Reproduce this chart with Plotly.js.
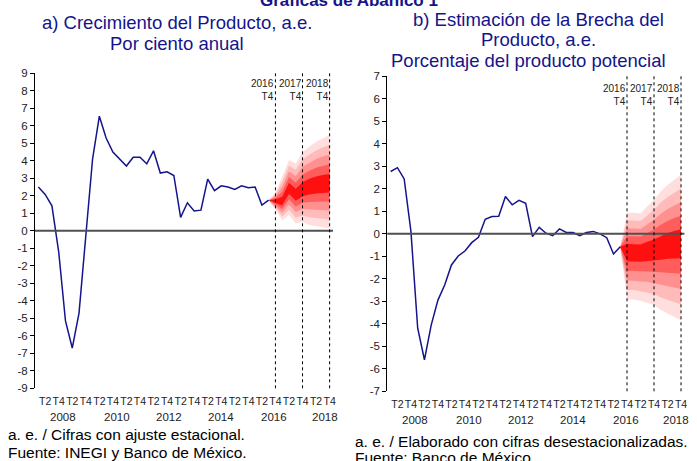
<!DOCTYPE html>
<html><head><meta charset="utf-8">
<script src="https://cdn.plot.ly/plotly-3.0.1.min.js"></script>
<style>html,body{margin:0;padding:0;background:#fff;}#chart{width:697px;height:461px;}</style>
</head><body><div id="chart"></div>
<script>
// ---- categories ----
const years = [2008, 2009, 2010, 2011, 2012, 2013, 2014, 2015, 2016, 2017, 2018];
const quarterNames = ['T1', 'T2', 'T3', 'T4'];
const quarters = [];
years.forEach(y => quarterNames.forEach(q => quarters.push(y + q)));
const yearLabels = ['2008', '2010', '2012', '2014', '2016', '2018'];
const markerLabels = ['2016<br>T4', '2017<br>T4', '2018<br>T4'];
const markerQuarters = ['2016T4', '2017T4', '2018T4'];

// ---- a) Crecimiento del Producto (historical, 2008T1-2016T3) ----
const growthHist = [2.5, 2.08, 1.43, -1.2, -5.15, -6.7, -4.7, -0.4, 4.1, 6.55, 5.3, 4.5, 4.1, 3.7, 4.2, 4.2,
  3.83, 4.57, 3.3, 3.37, 3.16, 0.77, 1.6, 1.13, 1.18, 2.95, 2.29, 2.57, 2.5, 2.36, 2.57, 2.46, 2.5, 1.47, 1.75];
// fan (2016T3-2018T4)
const growthUp100 = [1.75, 2.17, 3.09, 4.04, 3.85, 4.51, 4.80, 5.09, 5.28, 5.47];
const growthUp80  = [1.75, 2.08, 2.80, 3.72, 3.49, 4.07, 4.34, 4.59, 4.76, 4.92];
const growthUp60  = [1.75, 1.99, 2.52, 3.39, 3.13, 3.64, 3.88, 4.10, 4.24, 4.36];
const growthUp40  = [1.75, 1.89, 2.23, 3.07, 2.76, 3.20, 3.43, 3.60, 3.71, 3.81];
const growthUp20  = [1.75, 1.80, 1.95, 2.74, 2.40, 2.77, 2.97, 3.11, 3.19, 3.25];
const growthLo20  = [1.75, 1.61, 1.45, 2.12, 1.72, 1.97, 2.07, 2.13, 2.17, 2.19];
const growthLo40  = [1.75, 1.51, 1.24, 1.81, 1.39, 1.60, 1.64, 1.66, 1.68, 1.67];
const growthLo60  = [1.75, 1.42, 1.03, 1.51, 1.07, 1.24, 1.20, 1.18, 1.18, 1.16];
const growthLo80  = [1.75, 1.32, 0.82, 1.20, 0.74, 0.87, 0.77, 0.71, 0.69, 0.64];
const growthLo100 = [1.75, 1.22, 0.61, 0.90, 0.42, 0.51, 0.33, 0.23, 0.19, 0.13];

// ---- b) Brecha del Producto (historical, 2008T1-2016T3) ----
const gapHist = [2.76, 2.93, 2.43, 0.1, -4.2, -5.6, -4.06, -2.95, -2.28, -1.39, -0.99, -0.77, -0.4, -0.16, 0.64, 0.76,
  0.77, 1.65, 1.28, 1.48, 1.35, -0.13, 0.28, 0.02, -0.09, 0.21, 0.05, 0.05, -0.09, 0.05, 0.1, -0.01, -0.18, -0.9, -0.58];
const gapUp100 = [-0.58, 0.93, 0.93, 0.90, 1.20, 1.50, 1.87, 2.16, 2.39, 2.61];
const gapUp80  = [-0.58, 0.58, 0.58, 0.56, 0.81, 1.06, 1.38, 1.63, 1.82, 2.01];
const gapUp60  = [-0.58, 0.24, 0.23, 0.21, 0.42, 0.62, 0.88, 1.10, 1.25, 1.41];
const gapUp40  = [-0.58, -0.11, -0.12, -0.13, 0.03, 0.18, 0.39, 0.56, 0.69, 0.80];
const gapUp20  = [-0.58, -0.45, -0.47, -0.48, -0.36, -0.26, -0.11, 0.03, 0.12, 0.20];
const gapLo20  = [-0.58, -1.22, -1.24, -1.25, -1.21, -1.19, -1.16, -1.11, -1.10, -1.09];
const gapLo40  = [-0.58, -1.65, -1.66, -1.68, -1.68, -1.69, -1.72, -1.72, -1.75, -1.78];
const gapLo60  = [-0.58, -2.07, -2.08, -2.12, -2.14, -2.18, -2.27, -2.32, -2.39, -2.46];
const gapLo80  = [-0.58, -2.50, -2.50, -2.55, -2.61, -2.68, -2.83, -2.93, -3.04, -3.15];
const gapLo100 = [-0.58, -2.92, -2.92, -2.98, -3.07, -3.17, -3.39, -3.54, -3.69, -3.84];

const histQuarters = quarters.slice(0, growthHist.length);
const fanQuarters = quarters.slice(growthHist.length - 1);

// ---- styles ----
const FONT = 'Liberation Sans, Arial, sans-serif';
const NAVY = '#14148c';
const fanColors = ['#FFDEDE', '#FFBABA', '#FF9090', '#FF5C5C', '#FF1010'];

function band(up, lo, color, xa, ya) {
  return {
    type: 'scatter', mode: 'lines', xaxis: xa, yaxis: ya,
    x: fanQuarters.concat(fanQuarters.slice().reverse()),
    y: up.concat(lo.slice().reverse()),
    fill: 'toself', fillcolor: color, line: {width: 0, color: color},
    hoverinfo: 'skip', showlegend: false
  };
}

const traces = [
  band(growthUp100, growthLo100, fanColors[0], 'x', 'y'),
  band(growthUp80, growthLo80, fanColors[1], 'x', 'y'),
  band(growthUp60, growthLo60, fanColors[2], 'x', 'y'),
  band(growthUp40, growthLo40, fanColors[3], 'x', 'y'),
  band(growthUp20, growthLo20, fanColors[4], 'x', 'y'),
  {type: 'scatter', mode: 'lines', x: histQuarters, y: growthHist, xaxis: 'x', yaxis: 'y',
   line: {color: NAVY, width: 1.5}, showlegend: false},
  band(gapUp100, gapLo100, fanColors[0], 'x2', 'y2'),
  band(gapUp80, gapLo80, fanColors[1], 'x2', 'y2'),
  band(gapUp60, gapLo60, fanColors[2], 'x2', 'y2'),
  band(gapUp40, gapLo40, fanColors[3], 'x2', 'y2'),
  band(gapUp20, gapLo20, fanColors[4], 'x2', 'y2'),
  {type: 'scatter', mode: 'lines', x: histQuarters, y: gapHist, xaxis: 'x2', yaxis: 'y2',
   line: {color: NAVY, width: 1.5}, showlegend: false}
];

const tickQuarters = quarters.filter(q => q.endsWith('T2') || q.endsWith('T4'));
const tickTexts = tickQuarters.map(q => q.slice(4));

function xAxis(domain, anchor) {
  return {
    domain: domain, anchor: anchor, type: 'category', categoryorder: 'array', categoryarray: quarters,
    range: [-0.5, quarters.length - 0.5], showgrid: false, zeroline: false, showline: false,
    ticks: '', tickmode: 'array', tickvals: tickQuarters, ticktext: tickTexts, tickangle: 0,
    ticklabelstandoff: 5,
    tickfont: {family: FONT, size: 10.5, color: '#222'}, fixedrange: true
  };
}
function yAxis(domain, anchor, lim) {
  const vals = [];
  for (let v = -lim; v <= lim; v++) vals.push(v);
  return {
    domain: domain, anchor: anchor, range: [-lim, lim],
    tickmode: 'array', tickvals: vals, ticktext: vals.map(v => String(v)),
    showgrid: false, zeroline: false, showline: true, linecolor: '#000', linewidth: 1,
    ticks: 'outside', ticklen: 4, tickcolor: '#000', tickwidth: 1,
    tickfont: {family: FONT, size: 11.5, color: '#222'}, fixedrange: true
  };
}

const shapes = [];
const annotations = [];
[['x', 'y'], ['x2', 'y2']].forEach(([xa, ya], k) => {
  shapes.push({type: 'line', xref: xa + ' domain', yref: ya, x0: 0, x1: 1, y0: 0, y1: 0,
    line: {color: '#505050', width: 2}, layer: 'above'});
  markerQuarters.forEach((q, j) => {
    const idx = quarters.indexOf(q);
    shapes.push({type: 'line', xref: xa, yref: ya + ' domain', x0: idx, x1: idx, y0: 0, y1: 1,
      line: {color: '#000', width: 1, dash: 'dot'}, layer: 'above'});
    annotations.push({xref: xa, yref: ya + ' domain', x: idx, y: k === 0 ? 0.99 : 0.983,
      xanchor: 'right', yanchor: 'top', text: markerLabels[j], align: 'right', showarrow: false,
      font: {family: FONT, size: 10, color: '#222'}, xshift: 1});
  });
  const yearPos = [3.6, 11.6, 19.3, 27.0, 34.8, 42.3];
  yearLabels.forEach((t, j) => {
    annotations.push({xref: xa, yref: ya + ' domain', x: yearPos[j], y: 0, yanchor: 'middle',
      yshift: -29, text: t, showarrow: false, font: {family: FONT, size: 11.5, color: '#222'}});
  });
});

function paperText(text, x, y, opts) {
  return Object.assign({xref: 'paper', yref: 'paper', x: x / 697, y: 1 - y / 461, text: text,
    showarrow: false, xanchor: 'center', yanchor: 'middle',
    font: {family: FONT, size: 18.5, color: NAVY}}, opts || {});
}
annotations.push(paperText('<b>Gráficas de Abanico 1</b>', 349, 1, {font: {family: FONT, size: 17, color: NAVY}}));
annotations.push(paperText('a) Crecimiento del Producto, a.e.', 177, 22.7));
annotations.push(paperText('Por ciento anual', 177, 44));
annotations.push(paperText('b) Estimación de la Brecha del', 538, 19));
annotations.push(paperText('Producto, a.e.', 538, 39.5));
annotations.push(paperText('Porcentaje del producto potencial', 528, 60));
const footA = {xanchor: 'left', font: {family: FONT, size: 15.5, color: '#000'}};
annotations.push(paperText('a. e. / Cifras con ajuste estacional.', 6, 434, footA));
annotations.push(paperText('Fuente: INEGI y Banco de México.', 6, 452, footA));
annotations.push(paperText('a. e. / Elaborado con cifras desestacionalizadas.', 353, 441, footA));
annotations.push(paperText('Fuente: Banco de México.', 353, 457, footA));

const layout = {
  width: 697, height: 461, autosize: false,
  margin: {l: 0, r: 0, t: 0, b: 0, pad: 0},
  paper_bgcolor: '#fff', plot_bgcolor: '#fff', showlegend: false,
  xaxis: xAxis([35 / 697, 333 / 697], 'y'),
  yaxis: yAxis([1 - 388.3 / 461, 1 - 73.3 / 461], 'x', 9),
  xaxis2: xAxis([387.3 / 697, 684.4 / 697], 'y2'),
  yaxis2: yAxis([1 - 391.3 / 461, 1 - 76 / 461], 'x2', 7),
  shapes: shapes, annotations: annotations
};

Plotly.newPlot('chart', traces, layout, {staticPlot: true, displayModeBar: false});
</script></body></html>
